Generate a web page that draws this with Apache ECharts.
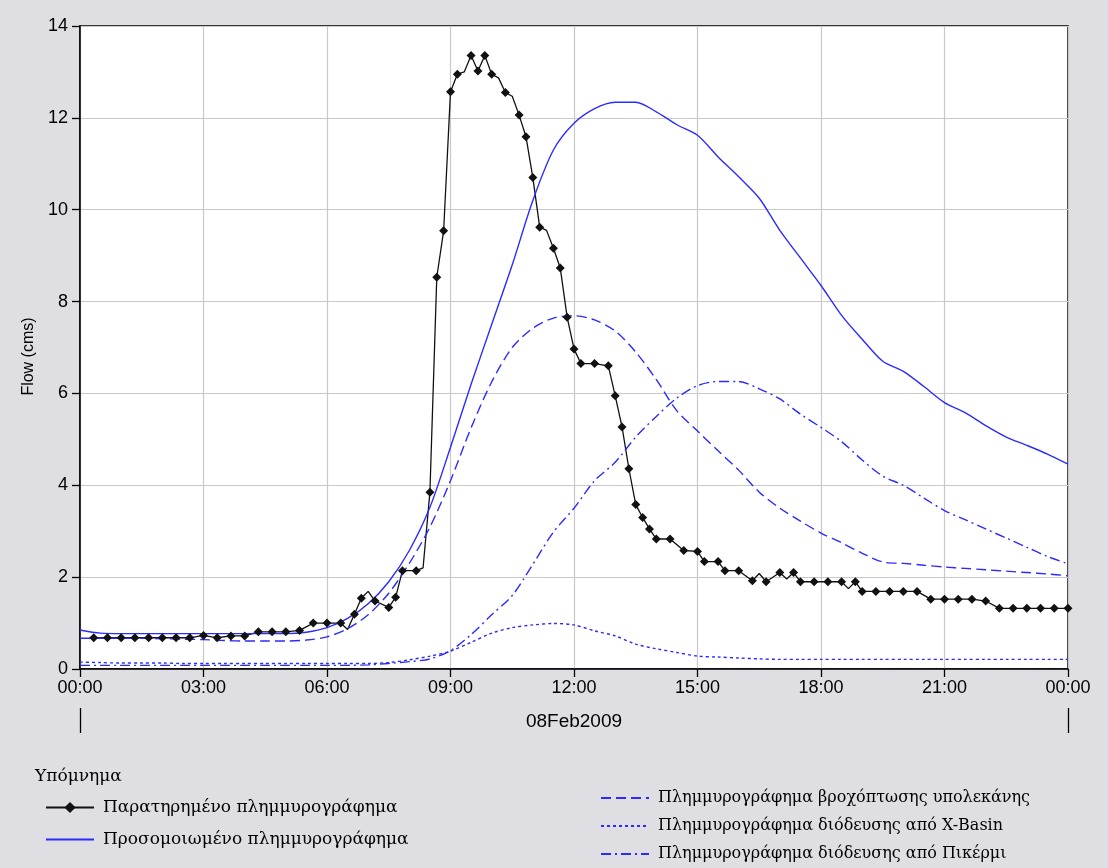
<!DOCTYPE html>
<html>
<head>
<meta charset="utf-8">
<title>Flow hydrographs</title>
<script src="https://cdn.jsdelivr.net/npm/echarts@6/dist/echarts.min.js"></script>
<style>
  html, body { margin: 0; padding: 0; background: #dfdfe3; }
  #chart { width: 1108px; height: 868px; }
</style>
</head>
<body>
<div id="chart"></div>
<script>
// series names (legend)
var obsName = 'Παρατηρημένο πλημμυρογράφημα';
var simName = 'Προσομοιωμένο πλημμυρογράφημα';
var subName = 'Πλημμυρογράφημα βροχόπτωσης υπολεκάνης';
var xbName = 'Πλημμυρογράφημα διόδευσης από X-Basin';
var pkName = 'Πλημμυρογράφημα διόδευσης από Πικέρμι';

// model output, every half hour (hours from 00:00 08Feb2009)
var modelHours = [0, 0.5, 1, 1.5, 2, 2.5, 3, 3.5, 4, 4.5, 5, 5.5, 6, 6.5, 7, 7.5, 8, 8.5,
    9, 9.5, 10, 10.5, 11, 11.5, 12, 12.5, 13, 13.5, 14, 14.5, 15, 15.5, 16, 16.5,
    17, 17.5, 18, 18.5, 19, 19.5, 20, 20.5, 21, 21.5, 22, 22.5, 23, 23.5, 24];
var simFlow = [0.85, 0.78, 0.77, 0.77, 0.77, 0.77, 0.77, 0.77, 0.77, 0.77, 0.77, 0.80, 0.90, 1.10, 1.42, 1.90, 2.58, 3.52,
    4.83, 6.20, 7.50, 8.80, 10.20, 11.30, 11.88, 12.20, 12.34, 12.34, 12.13, 11.85, 11.62, 11.15, 10.72, 10.25,
    9.55, 8.95, 8.35, 7.70, 7.18, 6.70, 6.48, 6.15, 5.80, 5.58, 5.30, 5.05, 4.87, 4.68, 4.46];
var subFlow = [0.67, 0.67, 0.67, 0.67, 0.66, 0.65, 0.64, 0.62, 0.61, 0.61, 0.61, 0.63, 0.70, 0.88, 1.18, 1.65, 2.30, 3.09,
    4.10, 5.25, 6.25, 7.00, 7.42, 7.64, 7.69, 7.60, 7.36, 6.90, 6.30, 5.62, 5.18, 4.75, 4.33, 3.85,
    3.50, 3.22, 2.96, 2.75, 2.52, 2.33, 2.30, 2.26, 2.22, 2.19, 2.16, 2.13, 2.10, 2.07, 2.03];
var xbFlow = [0.15, 0.14, 0.13, 0.13, 0.13, 0.12, 0.12, 0.12, 0.12, 0.12, 0.12, 0.12, 0.12, 0.12, 0.12, 0.14, 0.20, 0.28,
    0.39, 0.58, 0.78, 0.90, 0.96, 0.99, 0.96, 0.83, 0.72, 0.54, 0.44, 0.36, 0.28, 0.26, 0.24, 0.22,
    0.21, 0.21, 0.21, 0.21, 0.21, 0.21, 0.21, 0.21, 0.21, 0.21, 0.21, 0.21, 0.21, 0.21, 0.21];
var pkFlow = [0.08, 0.08, 0.08, 0.08, 0.08, 0.08, 0.08, 0.08, 0.08, 0.08, 0.08, 0.08, 0.08, 0.08, 0.09, 0.12, 0.16, 0.22,
    0.40, 0.75, 1.18, 1.60, 2.28, 2.98, 3.50, 4.10, 4.50, 5.05, 5.50, 5.90, 6.17, 6.26, 6.26, 6.10,
    5.88, 5.55, 5.26, 4.95, 4.55, 4.20, 4.00, 3.72, 3.45, 3.25, 3.05, 2.85, 2.65, 2.45, 2.29];

// observed flow (irregular times)
var obsTimes = ['00:20', '00:40', '01:00', '01:20', '01:40', '02:00', '02:20', '02:40', '03:00', '03:20',
    '03:40', '04:00', '04:20', '04:40', '05:00', '05:20', '05:40', '06:00', '06:20', '06:30',
    '06:40', '06:50', '07:00', '07:10', '07:30', '07:40', '07:50', '08:10', '08:20', '08:30',
    '08:40', '08:50', '09:00', '09:10', '09:20', '09:30', '09:40', '09:50', '10:00', '10:10',
    '10:20', '10:30', '10:40', '10:50', '11:00', '11:10', '11:20', '11:30', '11:40', '11:50',
    '12:00', '12:10', '12:30', '12:50', '13:00', '13:10', '13:20', '13:30', '13:40', '13:50',
    '14:00', '14:20', '14:40', '15:00', '15:10', '15:30', '15:40', '16:00', '16:20', '16:30',
    '16:40', '17:00', '17:10', '17:20', '17:30', '17:50', '18:10', '18:30', '18:40', '18:50',
    '19:00', '19:20', '19:40', '20:00', '20:20', '20:40', '21:00', '21:20', '21:40', '22:00',
    '22:20', '22:40', '23:00', '23:20', '23:40', '24:00'];
var obsFlow = [0.68, 0.68, 0.68, 0.68, 0.68, 0.68, 0.68, 0.68, 0.73, 0.68,
    0.72, 0.72, 0.81, 0.81, 0.81, 0.84, 1.00, 1.00, 1.00, 0.86,
    1.19, 1.54, 1.69, 1.48, 1.34, 1.56, 2.14, 2.14, 2.20, 3.85,
    8.53, 9.54, 12.57, 12.95, 13.00, 13.36, 13.02, 13.36, 12.95, 12.87,
    12.55, 12.47, 12.06, 11.59, 10.70, 9.62, 9.55, 9.16, 8.73, 7.66,
    6.97, 6.65, 6.65, 6.60, 5.95, 5.27, 4.36, 3.58, 3.30, 3.05,
    2.83, 2.83, 2.58, 2.56, 2.34, 2.34, 2.14, 2.14, 1.92, 2.08,
    1.90, 2.10, 1.96, 2.10, 1.90, 1.90, 1.90, 1.90, 1.75, 1.90,
    1.69, 1.69, 1.69, 1.69, 1.69, 1.52, 1.52, 1.52, 1.52, 1.48,
    1.32, 1.32, 1.32, 1.32, 1.32, 1.32];
// observed readings drawn without a marker in the original plot
var obsUnmarked = ['06:30', '07:00', '08:20', '09:20', '10:10', '10:30', '11:20', '16:30', '17:10', '18:40'];

var yTicks = [0, 2, 4, 6, 8, 10, 12, 14];
var dateLabel = '08Feb2009';

function toHours(t) {
    var p = t.split(':');
    return +p[0] + (+p[1]) / 60;
}

function pairs(xs, ys) {
    return xs.map(function (x, i) { return [x, ys[i]]; });
}

function obsData() {
    return obsTimes.map(function (t, i) {
        var item = { value: [toHours(t), obsFlow[i]] };
        if (obsUnmarked.indexOf(t) >= 0) item.symbol = 'none';
        return item;
    });
}

function hourLabel(v) {
    var h = Math.round(v) % 24;
    return (h < 10 ? '0' : '') + h + ':00';
}

// legend entry for a line drawn without symbols
function lineOnly(name) {
    return { name: name, itemStyle: { opacity: 0 } };
}

var blue = '#2b2bff';
var sansFont = 'Liberation Sans, Arial, sans-serif';
var serifFont = 'DejaVu Serif, Liberation Serif, serif';

function modelSeries(name, values, dash) {
    return {
        name: name,
        type: 'line',
        xAxisIndex: 0,
        data: pairs(modelHours, values),
        smooth: 0.3,
        symbol: 'none',
        lineStyle: { color: blue, width: 1.4, type: dash },
        itemStyle: { color: blue }
    };
}

var option = {
    backgroundColor: '#dfdfe3',
    animation: false,
    textStyle: { fontFamily: sansFont, color: '#000' },
    title: {
        text: 'Υπόμνημα',
        left: 30,
        top: 763,
        textStyle: { fontFamily: serifFont, fontSize: 17, fontWeight: 'normal', color: '#000' }
    },
    grid: {
        left: 80, right: 40, top: 26, bottom: 199,
        show: true,
        backgroundColor: '#ffffff',
        borderColor: '#000',
        borderWidth: 1.5
    },
    legend: [{
        data: [obsName, lineOnly(simName)],
        orient: 'vertical',
        left: 40,
        top: 794,
        itemGap: 15,
        itemWidth: 48,
        itemHeight: 14,
        textStyle: { fontFamily: serifFont, fontSize: 17, color: '#000', padding: [0, 0, 0, 4] }
    }, {
        data: [lineOnly(subName), lineOnly(xbName), lineOnly(pkName)],
        orient: 'vertical',
        left: 595,
        top: 785,
        itemGap: 12,
        itemWidth: 48,
        itemHeight: 14,
        textStyle: { fontFamily: serifFont, fontSize: 16, color: '#000', padding: [0, 0, 0, 4] }
    }],
    xAxis: [{
        type: 'value',
        min: 0,
        max: 24,
        interval: 3,
        axisLine: { lineStyle: { color: '#000', width: 1.5 } },
        axisTick: { length: 8, lineStyle: { color: '#000', width: 1.3 } },
        axisLabel: { formatter: hourLabel, fontSize: 18, color: '#000', margin: 10 },
        splitLine: { show: true, lineStyle: { color: '#c8c8c8', width: 1.2 } }
    }, {
        // date bracket under the hour labels
        type: 'value',
        position: 'bottom',
        offset: 39,
        min: 0,
        max: 24,
        interval: 24,
        axisLine: { show: false },
        axisTick: { show: true, length: 25, lineStyle: { color: '#000', width: 1.3 } },
        axisLabel: { show: false },
        splitLine: { show: false },
        name: dateLabel,
        nameLocation: 'middle',
        nameGap: 4,
        nameTextStyle: { fontSize: 19, color: '#000' }
    }],
    yAxis: {
        type: 'value',
        min: yTicks[0],
        max: yTicks[yTicks.length - 1],
        interval: 2,
        name: 'Flow (cms)',
        nameLocation: 'middle',
        nameGap: 42,
        nameTextStyle: { fontSize: 16, color: '#000', padding: [0, 18, 0, 0] },
        axisLine: { show: true, lineStyle: { color: '#000', width: 1.5 } },
        axisTick: { show: true, length: 8, lineStyle: { color: '#000', width: 1.3 } },
        axisLabel: { fontSize: 18, color: '#000', margin: 12 },
        splitLine: { show: true, lineStyle: { color: '#c8c8c8', width: 1.2 } }
    },
    series: [{
        name: obsName,
        type: 'line',
        xAxisIndex: 0,
        data: obsData(),
        symbol: 'diamond',
        symbolSize: 9,
        showAllSymbol: true,
        lineStyle: { color: '#111', width: 1.3 },
        itemStyle: { color: '#111' }
    },
        modelSeries(simName, simFlow, 'solid'),
        modelSeries(subName, subFlow, [10, 5]),
        modelSeries(xbName, xbFlow, [3, 3]),
        modelSeries(pkName, pkFlow, [10, 4, 2, 4])
    ]
};

var myChart = echarts.init(document.getElementById('chart'));
myChart.setOption(option);
</script>
</body>
</html>
